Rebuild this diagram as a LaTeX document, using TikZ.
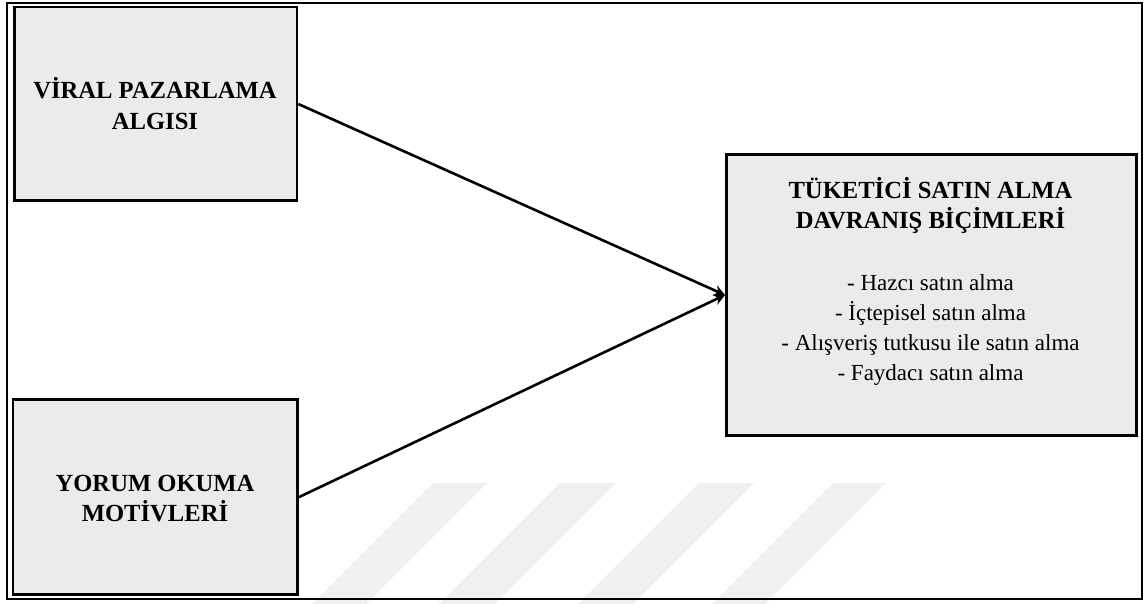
\documentclass[tikz,border=0pt]{standalone}
\usepackage{fontspec}
\setmainfont{Liberation Serif}
\usetikzlibrary{arrows.meta}
\begin{document}
\begin{tikzpicture}[x=1pt,y=-1pt,
  box/.style={draw=black, line width=2.8pt, fill=black!8, inner sep=0pt},
  conn/.style={line width=2.6pt, -{Stealth[length=11pt,width=11pt]}},
  titletext/.style={font=\bfseries\fontsize{24.6}{30}\selectfont, anchor=base, inner sep=0pt},
  bodytext/.style={font=\fontsize{23}{30}\selectfont, anchor=base, inner sep=0pt},
  wmark/.style={fill=black!6}]
\useasboundingbox (0,0) rectangle (1148,604);
% faint watermark stripes
\fill[wmark] (433,483) -- (487,483) -- (366,604) -- (312,604) -- cycle;
\fill[wmark] (560,483) -- (616,483) -- (495,604) -- (439,604) -- cycle;
\fill[wmark] (699,483) -- (754,483) -- (633,604) -- (578,604) -- cycle;
\fill[wmark] (833,483) -- (886,483) -- (765,604) -- (712,604) -- cycle;
% outer frame
\draw[line width=1.8pt] (7,3) rectangle (1142,599);
% boxes
\node[box, minimum width=282.8pt, minimum height=193.8pt] (vp) at (155.5,104) {};
\node[box, minimum width=284.5pt, minimum height=194.9pt] (ym) at (155.3,497.1) {};
\node[box, minimum width=410.2pt, minimum height=281.2pt] (rb) at (931.5,295) {};
% texts
\node[titletext] (vp1) at (155,98.3) {VİRAL PAZARLAMA};
\node[titletext] (vp2) at (155,129.3) {ALGISI};
\node[titletext] (ym1) at (155,491.7) {YORUM OKUMA};
\node[titletext] (ym2) at (155,521.7) {MOTİVLERİ};
\node[titletext] (rt1) at (930.5,198.3) {TÜKETİCİ SATIN ALMA};
\node[titletext] (rt2) at (930.5,228.3) {DAVRANIŞ BİÇİMLERİ};
\node[bodytext] (rl1) at (930.5,290) {- Hazcı satın alma};
\node[bodytext] (rl2) at (930.5,320) {- İçtepisel satın alma};
\node[bodytext] (rl3) at (930.5,350) {- Alışveriş tutkusu ile satın alma};
\node[bodytext] (rl4) at (930.5,380) {- Faydacı satın alma};
% connectors
\draw[conn] (vp.east) -- (rb.west);
\draw[conn] (ym.east) -- (rb.west);
\end{tikzpicture}
\end{document}
